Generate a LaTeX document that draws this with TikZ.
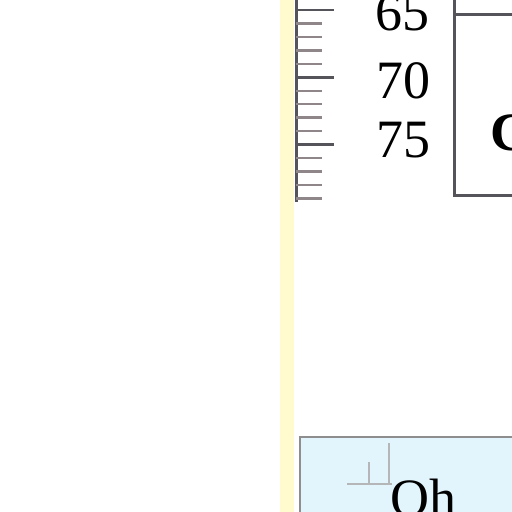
\documentclass[tikz,border=0pt]{standalone}
\usepackage{fontspec}
\setmainfont{Liberation Serif}
\usepackage{xcolor}
\usetikzlibrary{positioning,calc}
\definecolor{cream}{HTML}{FFFBCF}
\definecolor{paleblue}{HTML}{E2F4FC}
\definecolor{rule}{HTML}{55545A}
\definecolor{minor}{HTML}{8F8689}
\definecolor{frame}{HTML}{8E8E8E}
\definecolor{faint}{HTML}{B4B6B8}

\begin{document}
\begin{tikzpicture}[
  x=1pt,y=-1pt,
  every node/.style={font=\fontsize{54}{60}\selectfont,inner sep=0pt},
  axis/.style={draw=rule,line width=3pt},
  majortick/.style={draw=rule,line width=2.6pt},
  minortick/.style={draw=minor,line width=2.4pt},
  panel/.style={draw=rule,line width=3pt},
  inset/.style={fill=paleblue,draw=frame,line width=2.5pt},
  trace/.style={draw=faint,line width=2.5pt}
]
\useasboundingbox (0,0) rectangle (512,512);
\clip (0,0) rectangle (512,512);
\fill[white] (0,0) rectangle (512,512);
\fill[cream] (280,0) rectangle (294,512);

% depth ruler
\draw[axis] (296,-5) -- (296,202);
\foreach \v in {64,...,79}{
  \pgfmathsetmacro{\ty}{10+(\v-65)*13.45}
  \pgfmathtruncatemacro{\m}{mod(\v,5)}
  \ifnum\m=0
    \draw[majortick] (296,\ty) -- (334,\ty);
  \else
    \draw[minortick] (296,\ty) -- (322,\ty);
  \fi
}
\node[anchor=base] (d65) at (402,30) {65};
\node[anchor=base] (d70) at (403,98) {70};
\node[anchor=base] (d75) at (403,157) {75};

% unit panel
\draw[panel] (520,14) -- (454,14) (454,-5) -- (454,195) -- (520,195);
\node[anchor=base west,font=\fontsize{54}{60}\selectfont\bfseries] (unit) at (490,150) {C};

% inset
\draw[inset] (300,437) rectangle (530,530);
\draw[trace] (347,484) -- (392,484);
\draw[trace] (369,462) -- (369,484);
\draw[trace] (389,443) -- (389,484);
\node[anchor=base west] (oh) at (390,516) {Oh};
\end{tikzpicture}
\end{document}
